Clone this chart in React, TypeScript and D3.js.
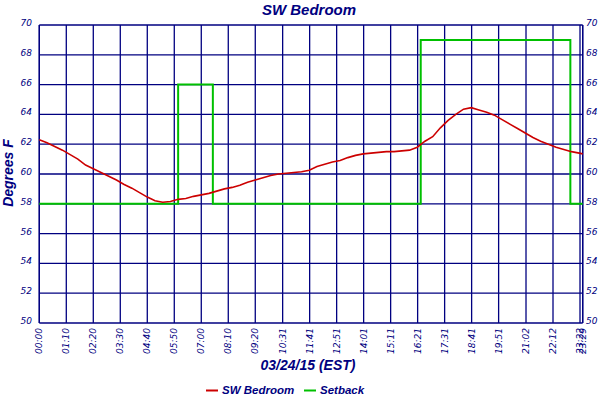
import * as d3 from 'd3';

const width = 600;
const height = 400;
const left = 39.3;
const right = 582.7;
const top = 25;
const bottom = 323;

const navy = '#000080';
const font = '"Liberation Sans", Arial, sans-serif';
const tickFont = '"DejaVu Sans", Verdana, sans-serif';

const tempTimes = [
  '00:00', '00:20', '00:40', '01:00', '01:20', '01:40', '02:00', '02:20',
  '02:40', '03:00', '03:20', '03:40', '04:00', '04:20', '04:40', '05:00',
  '05:20', '05:40', '06:00', '06:20', '06:40', '07:00', '07:20', '07:40',
  '08:00', '08:20', '08:40', '09:00', '09:20', '09:40', '10:00', '10:20',
  '10:40', '11:00', '11:20', '11:40', '12:00', '12:20', '12:40', '13:00',
  '13:20', '13:40', '14:00', '14:20', '14:40', '15:00', '15:20', '15:40',
  '16:00', '16:20', '16:40', '17:00', '17:20', '17:40', '18:00', '18:20',
  '18:40', '19:00', '19:20', '19:40', '20:00', '20:20', '20:40', '21:00',
  '21:20', '21:40', '22:00', '22:20', '22:40', '23:00', '23:20', '23:29',
];
const tempValues = [
  62.3, 62.1, 61.85, 61.6, 61.3, 61.0, 60.6, 60.35,
  60.1, 59.85, 59.6, 59.3, 59.05, 58.75, 58.45, 58.2,
  58.1, 58.15, 58.3, 58.35, 58.5, 58.6, 58.7, 58.85,
  59.0, 59.1, 59.25, 59.45, 59.6, 59.75, 59.9, 60.0,
  60.05, 60.1, 60.15, 60.25, 60.5, 60.65, 60.8, 60.9,
  61.1, 61.25, 61.35, 61.4, 61.45, 61.5, 61.5, 61.55,
  61.6, 61.8, 62.2, 62.5, 63.1, 63.6, 64.0, 64.35,
  64.45, 64.3, 64.15, 63.95, 63.65, 63.35, 63.05, 62.75,
  62.45, 62.2, 62.0, 61.8, 61.65, 61.5, 61.4, 61.35,
];

const setbackTimes = ['00:00', '06:00', '07:30', '16:29', '22:57', '23:29'];
const setbackValues = [58, 66, 58, 69, 58, 58];

const xTickLabels = [
  '00:00', '01:10', '02:20', '03:30', '04:40', '05:50', '07:00', '08:10',
  '09:20', '10:31', '11:41', '12:51', '14:01', '15:11', '16:21', '17:31',
  '18:41', '19:51', '21:02', '22:12', '23:22', '23:29',
];
const yTicks = [50, 52, 54, 56, 58, 60, 62, 64, 66, 68, 70];

const parse = d3.timeParse('%H:%M');

export default function App() {
  const x = d3
    .scaleTime()
    .domain([parse('00:00')!, parse('23:29')!])
    .range([left, right]);
  const y = d3.scaleLinear([50, 70], [bottom, top]);

  const temp = tempTimes.map((t, i) => [parse(t)!, tempValues[i]] as [Date, number]);
  const setback = setbackTimes.map((t, i) => [parse(t)!, setbackValues[i]] as [Date, number]);

  const tempLine = d3
    .line<[Date, number]>()
    .x((d) => x(d[0]))
    .y((d) => y(d[1]));
  const stepLine = tempLine.curve(d3.curveStepAfter);
  const tempPath = d3
    .line<[Date, number]>()
    .x((d) => x(d[0]))
    .y((d) => y(d[1]))(temp);

  return (
    <svg
      width={width}
      height={height}
      style={{ position: 'absolute', left: 0, top: 0, background: '#fff' }}
    >
      <rect width={width} height={height} fill="#fff" />
      <text
        x={309}
        y={15}
        textAnchor="middle"
        fontFamily={font}
        fontSize={15}
        fontWeight="bold"
        fontStyle="italic"
        fill={navy}
      >
        SW Bedroom
      </text>

      {/* grid */}
      <g stroke={navy} strokeWidth={1.3}>
        {yTicks.map((v) => (
          <line key={v} x1={left} x2={right} y1={y(v)} y2={y(v)} />
        ))}
        {xTickLabels.map((t) => (
          <line key={t} x1={x(parse(t)!)} x2={x(parse(t)!)} y1={top} y2={bottom} />
        ))}
        <line x1={left} x2={left} y1={top} y2={bottom} />
        <line x1={right} x2={right} y1={top} y2={bottom} />
      </g>

      {/* tick labels */}
      <g fontFamily={tickFont} fontSize={9} fontStyle="italic" fill={navy}>
        {yTicks.map((v) => (
          <text key={'l' + v} x={32} y={y(v) + 1} textAnchor="end">
            {v}
          </text>
        ))}
        {yTicks.map((v) => (
          <text key={'r' + v} x={586} y={y(v) + 1}>
            {v}
          </text>
        ))}
        {xTickLabels.map((t) => (
          <text
            key={t}
            transform={`translate(${x(parse(t)!) + 3},328) rotate(-90)`}
            textAnchor="end"
          >
            {t}
          </text>
        ))}
      </g>

      <path d={stepLine(setback) ?? ''} fill="none" stroke="#00c000" strokeWidth={2} />
      <path d={tempPath ?? ''} fill="none" stroke="#cc0000" strokeWidth={1.6} />

      <text
        transform="translate(13,173) rotate(-90)"
        textAnchor="middle"
        fontFamily={font}
        fontSize={14}
        fontWeight="bold"
        fontStyle="italic"
        fill={navy}
      >
        Degrees F
      </text>
      <text
        x={308}
        y={370}
        textAnchor="middle"
        fontFamily={font}
        fontSize={14}
        fontWeight="bold"
        fontStyle="italic"
        fill={navy}
      >
        03/24/15 (EST)
      </text>

      {/* legend */}
      <g fontFamily={font} fontSize={11.5} fontWeight="bold" fontStyle="italic" fill={navy}>
        <line x1={206} x2={218} y1={390.5} y2={390.5} stroke="#cc0000" strokeWidth={2} />
        <text x={222} y={393.5}>SW Bedroom</text>
        <line x1={304} x2={316} y1={390.5} y2={390.5} stroke="#00c000" strokeWidth={2} />
        <text x={320} y={393.5}>Setback</text>
      </g>
    </svg>
  );
}
